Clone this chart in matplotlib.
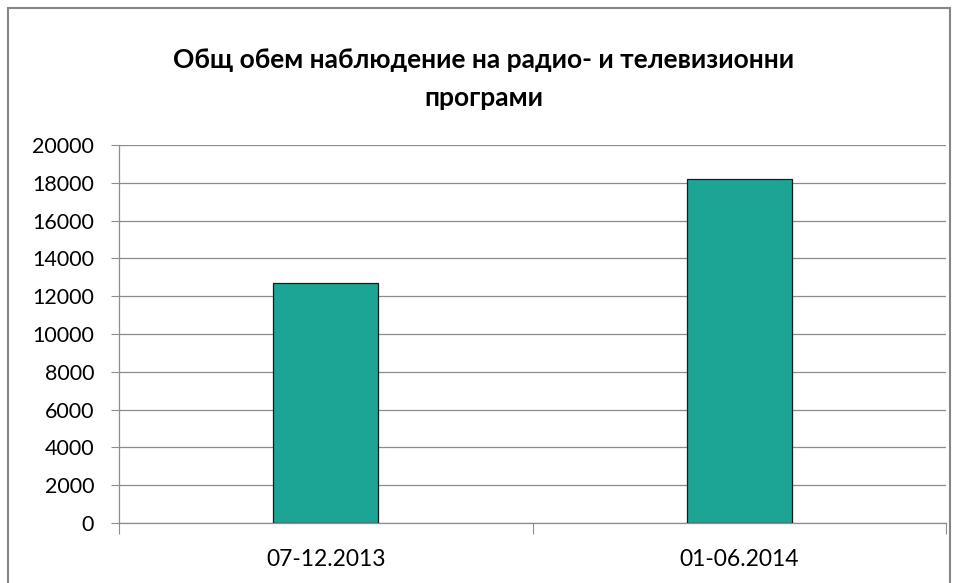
import matplotlib
matplotlib.use("Agg")
import matplotlib.pyplot as plt
from matplotlib.patches import Rectangle

categories = ["07-12.2013", "01-06.2014"]
values = [12700, 18180]
yticks = [0, 2000, 4000, 6000, 8000, 10000, 12000, 14000, 16000, 18000, 20000]
title = "Общ обем наблюдение на радио- и телевизионни\nпрограми"

plt.rcParams['font.family'] = ['Lato', 'DejaVu Sans']

W, H = 958, 583
fig = plt.figure(figsize=(W/100, H/100), dpi=100)
fig.patches.append(Rectangle((8/W, -0.05), (950-8)/W, 1 - 8/H + 0.05,
                             transform=fig.transFigure, fill=False,
                             edgecolor='#868686', linewidth=1.5))

ax = fig.add_axes([119/W, 1-523/H, (946-119)/W, (523-145)/H])
x = list(range(len(categories)))
ax.bar(x, values, width=0.255, color='#1ca594', edgecolor='#1a1a1a', linewidth=0.9, zorder=3)
ax.set_xlim(-0.5, len(categories)-0.5)
ax.set_ylim(0, 20000)
ax.set_yticks(yticks)
ax.set_yticklabels([str(v) for v in yticks], fontsize=15.5)
ax.yaxis.grid(True, color='#8c8c8c', linewidth=0.9, zorder=0)
ax.set_xticks([i - 0.5 for i in range(len(categories)+1)])
ax.set_xticklabels([])
ax.set_xticks(x, minor=True)
ax.set_xticklabels(categories, minor=True, fontsize=16.5)
ax.tick_params(axis='x', which='major', length=8, color='#8c8c8c', direction='out')
ax.tick_params(axis='x', which='minor', length=0, pad=19)
ax.tick_params(axis='y', length=6, color='#8c8c8c', pad=12)
for s in ['top', 'right']:
    ax.spines[s].set_visible(False)
for s in ['left', 'bottom']:
    ax.spines[s].set_color('#8c8c8c')
    ax.spines[s].set_linewidth(0.9)

fig.text(484/W, 1-79/H, title, ha='center', va='center', fontsize=19, fontweight='bold',
         linespacing=1.75)

fig.savefig("out.png", dpi=100)
